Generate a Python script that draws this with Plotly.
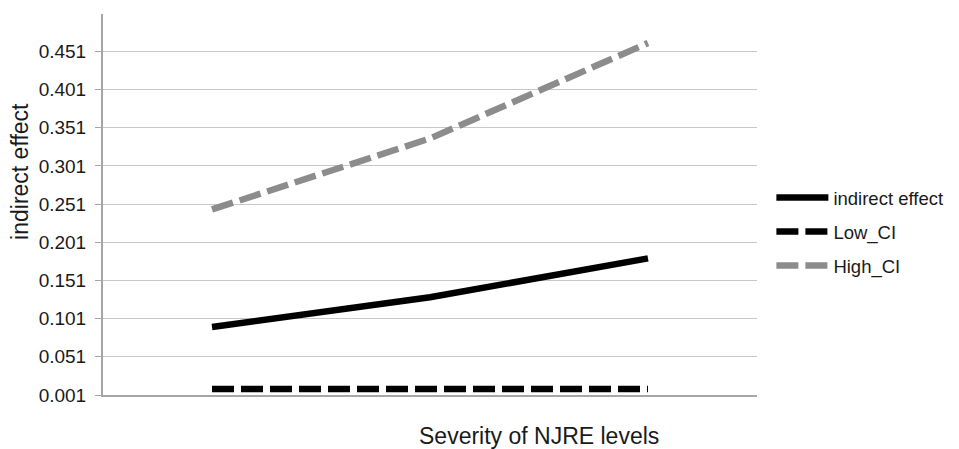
import plotly.graph_objects as go

categories = ["Low", "Moderate", "High"]
indirect_effect = [0.090, 0.129, 0.180]
low_ci = [0.009, 0.009, 0.009]
high_ci = [0.244, 0.337, 0.462]

x_title = "Severity of NJRE levels"
y_title = "indirect effect"

fig = go.Figure()
fig.add_trace(go.Scatter(x=categories, y=indirect_effect, name="indirect effect", mode="lines",
                         legendgroup="a", line=dict(color="#000000", width=6.5)))
fig.add_trace(go.Scatter(x=categories, y=low_ci, name="Low_CI", mode="lines",
                         legendgroup="b", line=dict(color="#000000", width=6.5, dash="22px,7px")))
fig.add_trace(go.Scatter(x=categories, y=high_ci, name="High_CI", mode="lines",
                         legendgroup="c", line=dict(color="#8c8c8c", width=6.5, dash="22px,7px")))

fig.update_layout(
    width=951, height=441,
    margin=dict(l=95, r=202, t=6, b=54),
    paper_bgcolor="white", plot_bgcolor="white",
    font=dict(family="Liberation Sans, Arial, sans-serif", color="#1a1a1a"),
    legend=dict(x=1.022, y=0.428, xanchor="left", yanchor="middle",
                font=dict(size=18.5), itemwidth=52, tracegroupgap=7,
                bgcolor="rgba(0,0,0,0)"),
    showlegend=True,
    annotations=[
        dict(text=x_title, xref="paper", yref="paper", x=0.6666, y=-0.1076,
             xanchor="center", yanchor="middle", showarrow=False,
             font=dict(size=23)),
        dict(text=y_title, xref="paper", yref="paper", x=-0.127, y=0.588,
             xanchor="center", yanchor="middle", showarrow=False, textangle=-90,
             font=dict(size=23)),
    ],
)
fig.update_xaxes(
    type="category", showticklabels=False, showgrid=False,
    showline=True, linecolor="#a6a6a6", linewidth=2,
    range=[-0.5, 2.5],
)
fig.update_yaxes(
    range=[0.001, 0.5], tick0=0.001, dtick=0.05, tickformat=".3f",
    showgrid=True, gridcolor="#c8c8c8", gridwidth=1,
    showline=True, linecolor="#a6a6a6", linewidth=2,
    ticks="outside", ticklen=6, tickcolor="#a6a6a6", tickwidth=1,
    tickfont=dict(size=19), ticklabelstandoff=5, zeroline=False,
)

fig.write_html("out.html")
